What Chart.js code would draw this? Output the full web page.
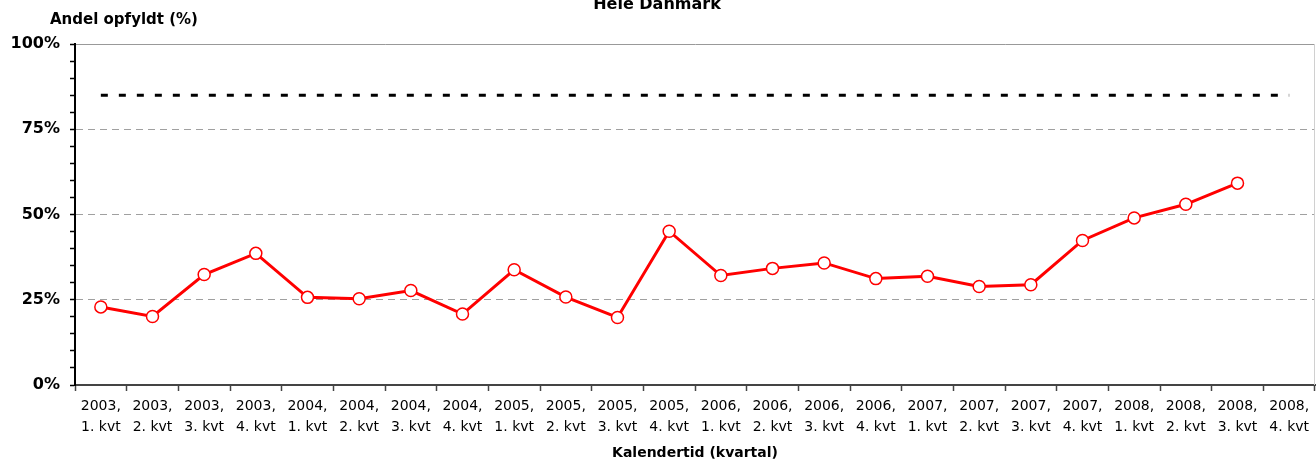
<!DOCTYPE html>
<html lang="da">
<head>
<meta charset="utf-8">
<title>Hele Danmark</title>
<script src="https://cdn.jsdelivr.net/npm/chart.js@4/dist/chart.umd.min.js"></script>
<style>
  html, body { margin: 0; padding: 0; background: #fff; }
  #wrap { width: 1316px; height: 463px; position: relative; }
</style>
</head>
<body>
<div id="wrap"><canvas id="grafik"></canvas></div>
<script>
// kvartaler på x-aksen (to linjer pr. etiket)
const aar = ["2003", "2003", "2003", "2003", "2004", "2004", "2004", "2004",
             "2005", "2005", "2005", "2005", "2006", "2006", "2006", "2006",
             "2007", "2007", "2007", "2007", "2008", "2008", "2008", "2008"];
const kvartal = ["1. kvt", "2. kvt", "3. kvt", "4. kvt", "1. kvt", "2. kvt", "3. kvt", "4. kvt",
                 "1. kvt", "2. kvt", "3. kvt", "4. kvt", "1. kvt", "2. kvt", "3. kvt", "4. kvt",
                 "1. kvt", "2. kvt", "3. kvt", "4. kvt", "1. kvt", "2. kvt", "3. kvt", "4. kvt"];

// andel opfyldt (%)
const andelOpfyldt = [22.9, 20.1, 32.4, 38.6, 25.7, 25.3, 27.7, 20.8,
                      33.8, 25.8, 19.8, 45.1, 32.1, 34.2, 35.8, 31.2,
                      31.9, 28.9, 29.4, 42.4, 49.0, 53.0, 59.2, null];

// målsætning
const maal = 85;
const maalLinje = aar.map(() => maal);

const labels = aar.map((a, i) => [a + ",", kvartal[i]]);

const FONT = "'DejaVu Sans', Verdana, sans-serif";

// tekster uden for selve plottet + ramme til højre
const tekster = {
    id: "tekster",
    afterDraw(chart) {
        const { ctx, chartArea } = chart;
        ctx.save();
        ctx.fillStyle = "#000";
        ctx.textBaseline = "middle";
        ctx.font = "bold 16px " + FONT;
        ctx.textAlign = "center";
        ctx.fillText("Hele Danmark", 657, 5);
        ctx.font = "bold 15px " + FONT;
        ctx.textAlign = "left";
        ctx.fillText("Andel opfyldt (%)", 50, 20);
        // højre kant
        ctx.strokeStyle = "#d0d0d0";
        ctx.lineWidth = 1;
        ctx.beginPath();
        ctx.moveTo(chartArea.right - 0.5, chartArea.top);
        ctx.lineTo(chartArea.right - 0.5, chartArea.bottom);
        ctx.stroke();
        ctx.restore();
    }
};

new Chart(document.getElementById("grafik"), {
    type: "line",
    data: {
        labels: labels,
        datasets: [{
            label: "Andel opfyldt",
            data: andelOpfyldt,
            borderColor: "#ff0000",
            backgroundColor: "#ffffff",
            borderWidth: 3,
            pointRadius: 6,
            pointBorderWidth: 1.5,
            pointBackgroundColor: "#ffffff",
            pointBorderColor: "#ff0000",
            tension: 0
        }, {
            label: "Mål",
            data: maalLinje,
            borderColor: "#000000",
            borderWidth: 3,
            borderDash: [7, 11],
            pointRadius: 0,
            fill: false
        }]
    },
    options: {
        responsive: true,
        maintainAspectRatio: false,
        animation: false,
        layout: { autoPadding: false, padding: { top: 44, right: 1, left: 0, bottom: 0 } },
        plugins: {
            legend: { display: false },
            title: { display: false },
            tooltip: { enabled: false }
        },
        scales: {
            x: {
                offset: true,
                afterFit: s => { s.height = 78; s.paddingLeft = 0; s.paddingRight = 0; },
                grid: {
                    offset: true,
                    drawOnChartArea: false,
                    tickLength: 6,
                    tickColor: "#444",
                    tickWidth: 1.5
                },
                border: { color: "#444", width: 2 },
                ticks: {
                    color: "#000",
                    padding: 5,
                    maxRotation: 0,
                    autoSkip: false,
                    font: { family: FONT, size: 14, lineHeight: 1.5 }
                },
                title: {
                    display: true,
                    text: "Kalendertid (kvartal)",
                    color: "#000",
                    padding: { top: 0, bottom: 1 },
                    font: { family: FONT, size: 14, weight: "bold" }
                }
            },
            y: {
                min: 0,
                max: 100,
                afterFit: s => { s.width = 75; },
                ticks: {
                    stepSize: 5,
                    autoSkip: false,
                    color: "#000",
                    padding: 10,
                    font: { family: FONT, size: 16, weight: "bold" },
                    callback: v => (v % 25 === 0 ? v + "%" : "")
                },
                grid: {
                    tickLength: 5,
                    tickColor: "#000",
                    tickWidth: 1.5,
                    lineWidth: 1,
                    color: ctx => {
                        const v = ctx.tick ? ctx.tick.value : 0;
                        if (v === 100) return "#999999";
                        if (v > 0 && v % 25 === 0) return "#a0a0a0";
                        return "rgba(0,0,0,0)";
                    }
                },
                border: {
                    color: "#000",
                    width: 2,
                    dash: ctx => (ctx.tick && ctx.tick.value === 100 ? [] : [7, 5])
                }
            }
        }
    },
    plugins: [tekster]
});
</script>
</body>
</html>
